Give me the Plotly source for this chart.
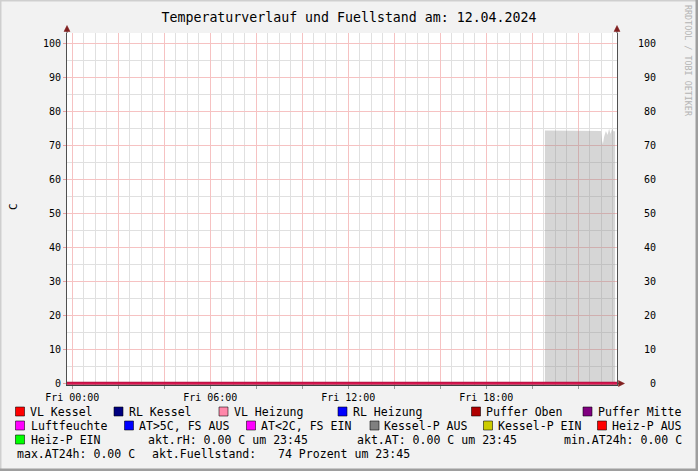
import plotly.graph_objects as go

# ---------------- data ----------------
# hours of the day (Fri) and values
line_hours = [-0.23, 0, 2, 4, 6, 8, 10, 12, 14, 16, 18, 20, 22, 23.68]
temp_values = [0, 0, 0, 0, 0, 0, 0, 0, 0, 0, 0, 0, 0, 0]

fill_hours = [20.55, 21.0, 21.5, 22.0, 22.5, 22.99, 23.03, 23.07, 23.12, 23.16,
              23.20, 23.27, 23.34, 23.40, 23.47, 23.53, 23.60]
fill_level = [74.4, 74.4, 74.3, 74.4, 74.4, 74.3, 71.5, 70.4, 72.5, 73.8,
              74.3, 73.1, 74.9, 73.4, 74.9, 74.2, 74.2]

x_tick_hours = [0, 2, 4, 6, 8, 10, 12, 14, 16, 18, 20, 22]
x_tick_labels = ["Fri 00:00", "", "", "Fri 06:00", "", "", "Fri 12:00", "", "",
                 "Fri 18:00", "", ""]
y_ticks = [0, 10, 20, 30, 40, 50, 60, 70, 80, 90, 100]

title_text = "Temperaturverlauf und Fuellstand am: 12.04.2024"
y_label = "C"
watermark = "RRDTOOL / TOBI OETIKER"

legend_labels = ["VL Kessel", "RL Kessel", "VL Heizung", "RL Heizung", "Puffer Oben",
                 "Puffer Mitte", "Luftfeuchte", "AT>5C, FS AUS", "AT<2C, FS EIN",
                 "Kessel-P AUS", "Kessel-P EIN", "Heiz-P AUS", "Heiz-P EIN"]
legend_colors = ["#FF0000", "#000080", "#FF88AA", "#0000FF", "#B00000",
                 "#800080", "#FF00FF", "#0000FF", "#FF00FF",
                 "#808080", "#CCCC00", "#FF0000", "#00FF00"]
info_texts = ["akt.rH: 0.00 C um 23:45", "akt.AT: 0.00 C um 23:45",
              "min.AT24h: 0.00 C", "max.AT24h: 0.00 C", "akt.Fuellstand:",
              "74 Prozent um 23:45"]

# ---------------- layout geometry (pixels) ----------------
W, H = 698, 471
PL, PR, PT, PB = 67, 617, 33, 385


def px(x):
    return (x - PL) / (PR - PL)


def py(y):
    return (PB - y) / (PB - PT)


legend_pos = [  # (swatch left, text left, row y)
    (15.5, 29.5, 411.5), (114, 128, 411.5), (219, 232.5, 411.5), (338, 352, 411.5),
    (471.5, 485, 411.5), (583, 596.5, 411.5),
    (15.5, 29.5, 425.5), (124.5, 138, 425.5), (246.5, 260, 425.5), (370, 383, 425.5),
    (483.5, 497, 425.5), (597.5, 611, 425.5),
    (15.5, 29.5, 439.5),
]
info_pos = [(146.5, 439.5), (355.5, 439.5), (562.5, 439.5),
            (15.5, 453.5), (150.5, 453.5), (276.5, 453.5)]

MONO = "DejaVu Sans Mono"
LEG_SIZE = 11.56

fig = go.Figure()

fig.add_trace(go.Scatter(
    x=fill_hours, y=fill_level, mode="lines", line=dict(width=0, color="rgba(0,0,0,0)"),
    fill="tozeroy", fillcolor="rgba(140,140,140,0.36)", hoverinfo="skip"))

fig.add_trace(go.Scatter(
    x=line_hours, y=temp_values, mode="lines",
    line=dict(color="#A8103A", width=3.0), hoverinfo="skip"))
fig.add_trace(go.Scatter(
    x=line_hours, y=temp_values, mode="lines",
    line=dict(color="#DA1450", width=1.5), hoverinfo="skip"))

# invisible trace for right axis
fig.add_trace(go.Scatter(x=[0], y=[0], yaxis="y2", mode="markers",
                         marker=dict(opacity=0), hoverinfo="skip"))

MAJ = "#F6C2C2"
MIN = "#E0E0E0"

fig.update_layout(
    width=W, height=H,
    margin=dict(l=PL, r=W - PR, t=PT, b=H - PB, pad=0),
    paper_bgcolor="#F2F2F2", plot_bgcolor="#FFFFFF",
    showlegend=False,
    font=dict(family=MONO, size=10, color="#000000"),
    title=dict(text=title_text, x=0.5, xanchor="center", xref="container",
               y=1 - 17.5 / H, yanchor="middle", yref="container",
               font=dict(family=MONO, size=13.25, color="#000000")),
    xaxis=dict(range=[(PL - 72.3) / 23, (PR - 72.3) / 23],
               tickmode="array", tickvals=x_tick_hours, ticktext=x_tick_labels,
               showgrid=True, gridcolor=MAJ, gridwidth=1,
               minor=dict(tick0=0, dtick=0.5, showgrid=True, gridcolor=MIN, gridwidth=1),
               ticks="outside", ticklen=3, tickcolor="#9A9A9A",
               showline=True, linecolor="#404040", linewidth=1,
               zeroline=False, tickfont=dict(family=MONO, size=10)),
    yaxis=dict(range=[-0.5, 103.12], tickmode="array", tickvals=y_ticks,
               showgrid=True, gridcolor=MAJ, gridwidth=1,
               minor=dict(tick0=0, dtick=5, showgrid=True, gridcolor=MIN, gridwidth=1),
               ticks="outside", ticklen=3, tickcolor="#E8A0A0",
               showline=True, linecolor="#505050", linewidth=1,
               zeroline=False, tickfont=dict(family=MONO, size=10)),
    yaxis2=dict(range=[-0.5, 103.12], overlaying="y", side="right",
                tickmode="array", tickvals=y_ticks,
                ticktext=[("\u00a0" * (3 - len(str(v)))) + str(v) for v in y_ticks],
                showgrid=False, zeroline=False, ticks="",
                showline=True, linecolor="#505050", linewidth=1,
                ticklabelstandoff=18, tickfont=dict(family=MONO, size=10)),
)

shapes = []
# frame shading
shapes.append(dict(type="rect", xref="paper", yref="paper", x0=px(0), x1=px(1.5),
                   y0=py(0), y1=py(H), line=dict(width=0), fillcolor="#CFCFCF", layer="below"))
shapes.append(dict(type="rect", xref="paper", yref="paper", x0=px(0), x1=px(W),
                   y0=py(0), y1=py(1.5), line=dict(width=0), fillcolor="#CFCFCF", layer="below"))
shapes.append(dict(type="rect", xref="paper", yref="paper", x0=px(W - 2.5), x1=px(W),
                   y0=py(0), y1=py(H), line=dict(width=0), fillcolor="#9E9E9E", layer="below"))
shapes.append(dict(type="rect", xref="paper", yref="paper", x0=px(0), x1=px(W),
                   y0=py(H - 2.5), y1=py(H), line=dict(width=0), fillcolor="#9E9E9E", layer="below"))

ARROW = "#801F1F"
AX = "#505050"
# axis extensions + arrows
for ax_x in (67, 617):
    shapes.append(dict(type="line", xref="paper", yref="paper", x0=px(ax_x), x1=px(ax_x),
                       y0=py(PT), y1=py(29), line=dict(color=AX, width=1)))
    path = "M {} {} L {} {} L {} {} Z".format(px(ax_x), py(25.5), px(ax_x - 3), py(31.5),
                                              px(ax_x + 3), py(31.5))
    shapes.append(dict(type="path", xref="paper", yref="paper", path=path,
                       fillcolor=ARROW, line=dict(color=ARROW, width=0.5)))
shapes.append(dict(type="line", xref="paper", yref="paper", x0=px(617), x1=px(620),
                   y0=py(383.5), y1=py(383.5), line=dict(color=AX, width=1)))
path = "M {} {} L {} {} L {} {} Z".format(px(624.5), py(383.5), px(618.5), py(380.5),
                                          px(618.5), py(386.5))
shapes.append(dict(type="path", xref="paper", yref="paper", path=path,
                   fillcolor=ARROW, line=dict(color=ARROW, width=0.5)))

annotations = []
# legend swatches + labels
for (sx, tx, ry), lab, col in zip(legend_pos, legend_labels, legend_colors):
    shapes.append(dict(type="rect", xref="paper", yref="paper",
                       x0=px(sx), x1=px(sx + 9), y0=py(ry - 4.5), y1=py(ry + 4.5),
                       fillcolor=col, line=dict(color="rgba(0,0,0,0.55)", width=1)))
    annotations.append(dict(xref="paper", yref="paper", x=px(tx - 1), y=py(ry),
                            xanchor="left", yanchor="middle", text=lab, showarrow=False,
                            font=dict(family=MONO, size=LEG_SIZE, color="#000000")))
for (tx, ry), t in zip(info_pos, info_texts):
    annotations.append(dict(xref="paper", yref="paper", x=px(tx - 1), y=py(ry),
                            xanchor="left", yanchor="middle", text=t, showarrow=False,
                            font=dict(family=MONO, size=LEG_SIZE, color="#000000")))

annotations.append(dict(xref="paper", yref="paper", x=px(14), y=py(207),
                        xanchor="center", yanchor="middle", text=y_label, textangle=-90,
                        showarrow=False, font=dict(family=MONO, size=11, color="#000000")))
annotations.append(dict(xref="paper", yref="paper", x=px(688), y=py(61),
                        xanchor="center", yanchor="middle", text=watermark, textangle=90,
                        showarrow=False, font=dict(family=MONO, size=8.4, color="#B4B4B4")))

fig.update_layout(shapes=shapes, annotations=annotations)

fig.write_html("out.html", config={"displayModeBar": False},
               post_script="document.body.style.margin='0';document.body.style.padding='0';")
